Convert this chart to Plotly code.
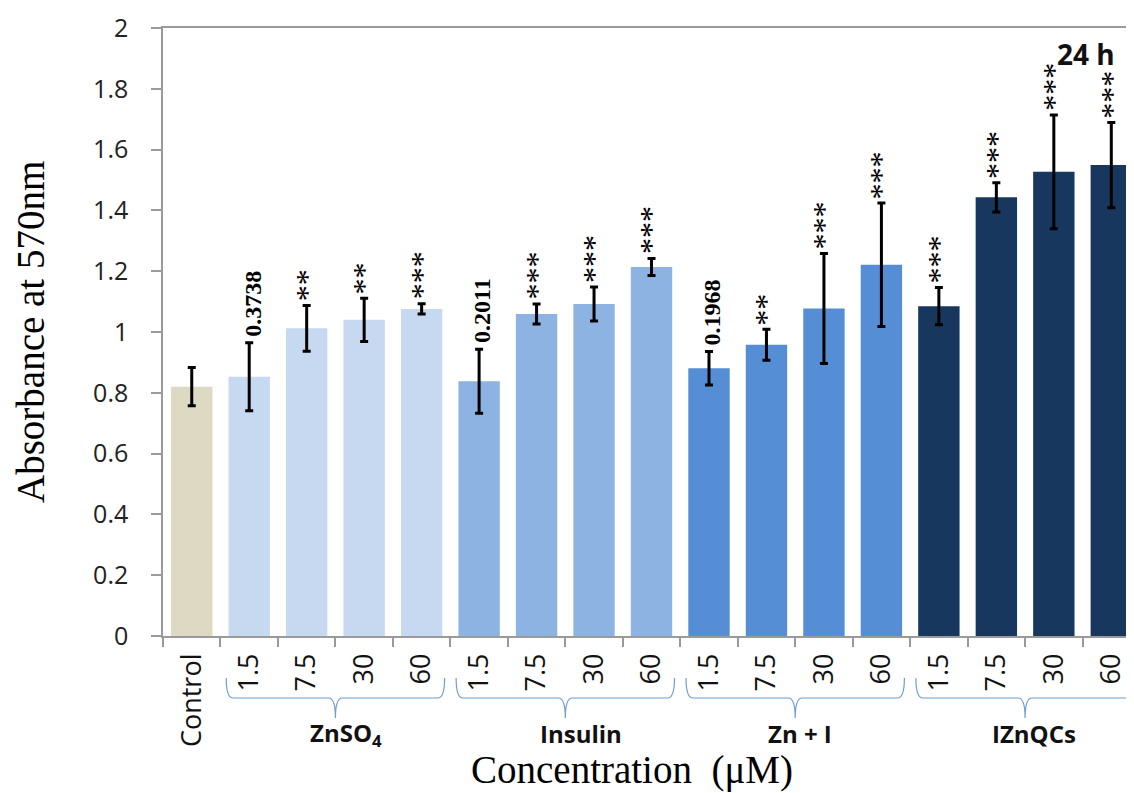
import plotly.graph_objects as go

# ---- data ----
bar_ids = ["Control",
           "ZnSO4 1.5", "ZnSO4 7.5", "ZnSO4 30", "ZnSO4 60",
           "Insulin 1.5", "Insulin 7.5", "Insulin 30", "Insulin 60",
           "Zn+I 1.5", "Zn+I 7.5", "Zn+I 30", "Zn+I 60",
           "IZnQCs 1.5", "IZnQCs 7.5", "IZnQCs 30", "IZnQCs 60"]
tick_labels = ["Control", "1.5", "7.5", "30", "60", "1.5", "7.5", "30", "60",
               "1.5", "7.5", "30", "60", "1.5", "7.5", "30", "60"]
values = [0.82,
          0.853, 1.012, 1.040, 1.076,
          0.838, 1.059, 1.092, 1.214,
          0.881, 0.958, 1.077, 1.221,
          1.085, 1.443, 1.527, 1.549]
errors = [0.063,
          0.112, 0.075, 0.071, 0.017,
          0.105, 0.033, 0.056, 0.028,
          0.055, 0.051, 0.181, 0.203,
          0.061, 0.048, 0.187, 0.140]
sig_labels = ["",
              "0.3738", "**", "**", "***",
              "0.2011", "***", "***", "***",
              "0.1968", "**", "***", "***",
              "***", "***", "***", "***"]
group_names = ["ZnSO<sub>4</sub>", "Insulin", "Zn + I", "IZnQCs"]
group_label_x = [2.68, 6.78, 10.58, 14.65]
group_spans = [(1, 4), (5, 8), (9, 12), (13, 16)]
colors = ["#ddd9c3"] + ["#c6d9f1"] * 4 + ["#8db3e2"] * 4 + ["#558ed5"] * 4 + ["#17375e"] * 4

x = list(range(len(bar_ids)))

fig = go.Figure()
fig.add_trace(go.Bar(
    x=x, y=values, width=0.72,
    marker=dict(color=colors, line=dict(width=0)),
    error_y=dict(type="data", array=errors, color="black", thickness=3, width=4),
    hovertext=bar_ids,
    showlegend=False,
))

annotations = []
for i, (v, e, s) in enumerate(zip(values, errors, sig_labels)):
    if not s:
        continue
    is_num = s[0].isdigit()
    annotations.append(dict(
        x=i, y=v + e, xref="x", yref="y", text=s, showarrow=False,
        textangle=-90, xanchor="center", yanchor="bottom",
        yshift=4 if is_num else 2, xshift=3 if is_num else 0,
        font=dict(family="Liberation Serif", size=24 if is_num else 32,
                  color="black", weight="bold" if is_num else "normal"),
    ))

for name, gx in zip(group_names, group_label_x):
    annotations.append(dict(
        x=gx, y=-0.161, xref="x", yref="paper", text="<b>%s</b>" % name,
        showarrow=False, xanchor="center", yanchor="middle",
        font=dict(family="Open Sans", size=24, color="#111111"),
    ))

annotations.append(dict(
    x=15.56, y=1.913, xref="x", yref="y", text="<b>24 h</b>", showarrow=False,
    xanchor="center", yanchor="middle",
    font=dict(family="Open Sans", size=28, color="#111111"),
))
annotations.append(dict(
    x=0.483, y=-0.221, xref="paper", yref="paper", text="Concentration  (\u03bcM)",
    showarrow=False, xanchor="center", yanchor="middle",
    font=dict(family="Liberation Serif", size=39, color="black"),
))
annotations.append(dict(
    x=-0.137, y=0.5, xref="paper", yref="paper", text="Absorbance at 570nm",
    showarrow=False, xanchor="center", yanchor="middle", textangle=-90,
    font=dict(family="Liberation Serif", size=39, color="black"),
))

# braces under groups
shapes = []
yt, ym, yb = -0.069, -0.102, -0.135
for a, b in group_spans:
    x0 = a - 0.5 + 0.1
    x1 = b + 0.5 - 0.1
    xc = (a + b) / 2
    d = 0.12
    path = (f"M {x0},{yt} Q {x0},{ym} {x0+d},{ym} L {xc-d},{ym} Q {xc},{ym} {xc},{yb} "
            f"Q {xc},{ym} {xc+d},{ym} L {x1-d},{ym} Q {x1},{ym} {x1},{yt}")
    shapes.append(dict(type="path", path=path, xref="x", yref="paper",
                       line=dict(color="#6f9bd6", width=1.2)))

# page body has an 8px margin: figure is sized to end at the window edge
fig.update_layout(
    width=1126, height=785,
    margin=dict(l=155, r=0, t=20, b=157),
    paper_bgcolor="white", plot_bgcolor="white",
    annotations=annotations,
    shapes=shapes,
    xaxis=dict(
        range=[-0.5, 16.395],
        tickmode="array", tickvals=x, ticktext=tick_labels,
        tickangle=-90, ticks="", showgrid=False, zeroline=False,
        showline=True, linecolor="#9a9a9a", linewidth=1.5, mirror=True,
        tickfont=dict(family="Open Sans", size=27, color="#111111"),
        ticklabelstandoff=5,
        minor=dict(tickmode="array", tickvals=[i - 0.5 for i in range(18)],
                   ticks="outside", ticklen=9, tickcolor="#9a9a9a", tickwidth=1.5,
                   showgrid=False),
    ),
    yaxis=dict(
        range=[0, 2], dtick=0.2, tick0=0, showgrid=False, zeroline=False,
        showline=True, linecolor="#9a9a9a", linewidth=1.5,
        ticks="outside", ticklen=10, tickcolor="#9a9a9a", tickwidth=1.5,
        tickfont=dict(family="Open Sans", size=25, color="#222222"),
        ticklabelstandoff=18,
    ),
)

fig.write_html("out.html")
